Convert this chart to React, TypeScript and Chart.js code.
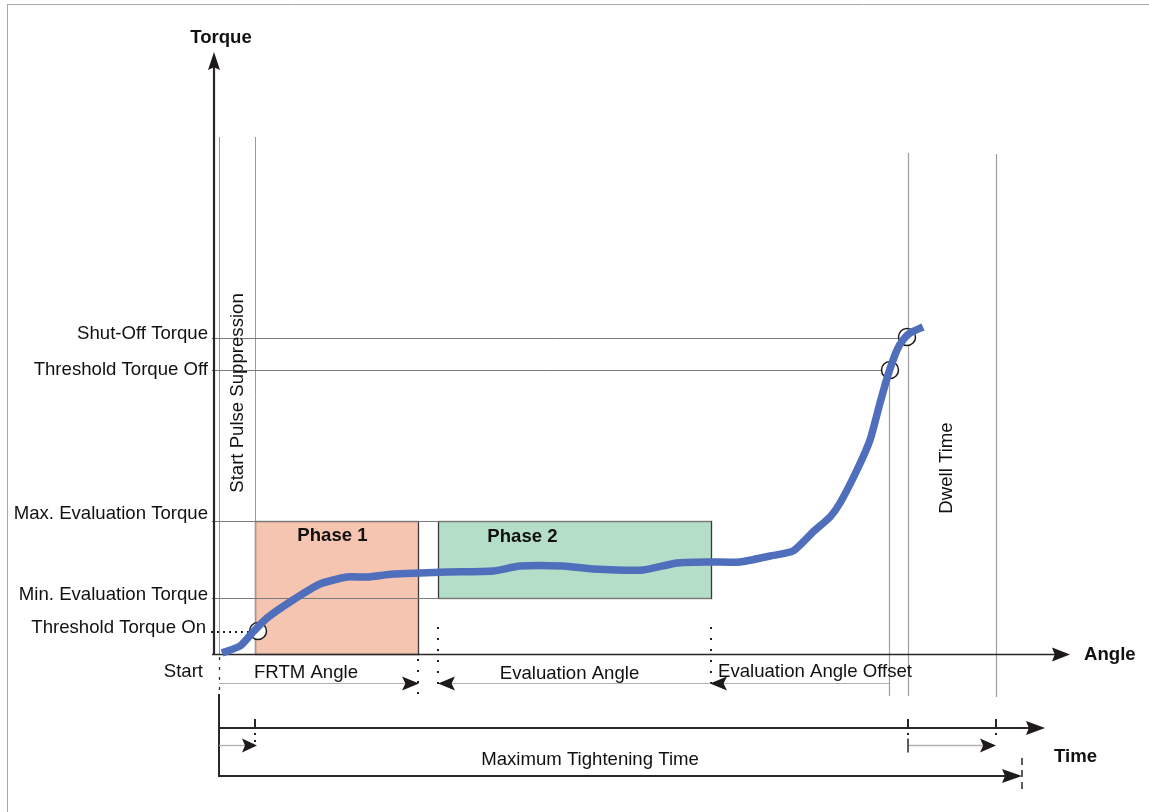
import React, { useEffect, useRef } from "react";
import { Chart, registerables } from "chart.js";

Chart.register(...registerables);

// Tightening curve: angle (x) and torque (y), arbitrary units
const curveAngle = [8, 26, 39, 53, 79, 106, 133, 153, 179, 206, 233, 279, 306, 349, 379, 429, 463, 496, 526, 556, 579, 599, 616, 626, 643, 656, 666, 674, 683, 689, 696, 709];
const curveTorque = [1, 8, 22, 36, 54, 70, 77, 77, 80, 81, 82, 83, 88, 88, 85, 84, 91, 92, 92, 98, 103, 122, 137, 151, 184, 214, 251, 279, 304, 314, 321, 327];

// Torque levels (left labels)
const torqueLabels = ["Shut-Off Torque", "Threshold Torque Off", "Max. Evaluation Torque", "Min. Evaluation Torque", "Threshold Torque On"];
const torqueLevels = [316, 284, 133, 56, 23];

// Angle marks
const markNames = ["start", "pulseEnd", "frtmEnd", "evalStart", "evalEnd", "thresholdOff", "shutOff", "dwellEnd"];
const markAngles = [5, 41, 204, 224, 497, 675, 694, 782];

// Rows below the angle axis (in torque units)
const rowNames = ["angleDim", "timeAxis", "timeDim", "maxTime"];
const rowLevels = [-29, -74, -91, -122];

// Axis extents
const axisNames = ["torqueTop", "angleEnd", "timeEnd", "maxTimeEnd", "verticalTop"];
const axisValues = [602, 856, 831, 808, 517];

// Threshold crossing circles
const circleAngle = [44, 676, 693];
const circleTorque = [23, 284, 317];

const FONT = "'Liberation Sans', Arial, sans-serif";
const FS = 18.6;
const M = (n: string) => markAngles[markNames.indexOf(n)];
const R = (n: string) => rowLevels[rowNames.indexOf(n)];
const A = (n: string) => axisValues[axisNames.indexOf(n)];

const diagramPlugin = {
  id: "diagram",
  beforeDatasetsDraw(chart: any) {
    const ctx: CanvasRenderingContext2D = chart.ctx;
    const xs = chart.scales.x;
    const ys = chart.scales.y;
    const X = (v: number) => xs.getPixelForValue(v);
    const Y = (v: number) => ys.getPixelForValue(v);
    const h = (v: number) => Math.round(v) + 0.5;

    const line = (x1: number, y1: number, x2: number, y2: number, color: string, w: number, dash: number[] = []) => {
      ctx.save();
      ctx.strokeStyle = color;
      ctx.lineWidth = w;
      ctx.setLineDash(dash);
      ctx.beginPath();
      ctx.moveTo(x1, y1);
      ctx.lineTo(x2, y2);
      ctx.stroke();
      ctx.restore();
    };
    const dots = (x: number, y1: number, y2: number, gap = 11) => {
      ctx.save();
      ctx.fillStyle = "#222";
      for (let y = y1; y <= y2; y += gap) ctx.fillRect(Math.round(x) - 1, Math.round(y) - 1, 2, 2);
      ctx.restore();
    };
    const hdots = (x1: number, x2: number, y: number, gap = 6) => {
      ctx.save();
      ctx.fillStyle = "#222";
      for (let x = x1; x <= x2; x += gap) ctx.fillRect(Math.round(x) - 1, Math.round(y), 2, 2);
      ctx.restore();
    };
    const arrow = (tx: number, ty: number, dir: string, len: number, half: number, notch = 0.25) => {
      let dx = 0, dy = 0;
      if (dir === "r") dx = 1;
      if (dir === "l") dx = -1;
      if (dir === "u") dy = -1;
      const bx = tx - dx * len, by = ty - dy * len;
      const px = -dy, py = dx;
      ctx.save();
      ctx.fillStyle = "#1e1a1a";
      ctx.beginPath();
      ctx.moveTo(tx, ty);
      ctx.lineTo(bx + px * half, by + py * half);
      ctx.lineTo(bx + dx * len * notch, by + dy * len * notch);
      ctx.lineTo(bx - px * half, by - py * half);
      ctx.closePath();
      ctx.fill();
      ctx.restore();
    };
    const text = (s: string, x: number, y: number, align: CanvasTextAlign, bold = false, size = FS, rot = 0) => {
      ctx.save();
      ctx.fillStyle = "#111111";
      ctx.font = `${bold ? "bold " : ""}${size}px ${FONT}`;
      ctx.textAlign = align;
      ctx.textBaseline = "middle";
      ctx.translate(x, y);
      if (rot) ctx.rotate(rot);
      ctx.fillText(s, 0, 0);
      ctx.restore();
    };

    // outer frame (top and left)
    line(7, 4.5, chart.width, 4.5, "#a8a8a8", 1);
    line(7.5, 4, 7.5, chart.height, "#a8a8a8", 1);

    // phase boxes
    const box = (a1: number, a2: number, t1: number, t2: number, fill: string) => {
      ctx.save();
      ctx.fillStyle = fill;
      ctx.fillRect(X(a1), Y(t2), X(a2) - X(a1), Y(t1) - Y(t2));
      ctx.strokeStyle = "#3a3a3a";
      ctx.lineWidth = 1.3;
      ctx.strokeRect(h(X(a1)), h(Y(t2)), Math.round(X(a2) - X(a1)), Math.round(Y(t1) - Y(t2)));
      ctx.restore();
    };
    box(M("pulseEnd"), M("frtmEnd"), 0, torqueLevels[2], "#f5c5b2");
    box(M("evalStart"), M("evalEnd"), torqueLevels[3], torqueLevels[2], "#b4dec8");

    // thin vertical lines
    const g = "#9a9a9a";
    line(h(X(M("start"))), Y(A("verticalTop")), h(X(M("start"))), Y(0), g, 1);
    line(h(X(M("pulseEnd"))), Y(A("verticalTop")), h(X(M("pulseEnd"))), Y(0), g, 1);
    line(h(X(M("thresholdOff"))), Y(torqueLevels[1]) + 8, h(X(M("thresholdOff"))), Y(R("angleDim")) + 13, "#a0a0a0", 1.2);
    line(h(X(M("shutOff"))), Y(A("verticalTop") - 16), h(X(M("shutOff"))), Y(R("angleDim")) + 13, "#a0a0a0", 1.2);
    line(h(X(M("dwellEnd"))), Y(A("verticalTop") - 17), h(X(M("dwellEnd"))), Y(R("angleDim")) + 14, "#a0a0a0", 1.2);

    // torque level lines
    const lx = X(-2);
    line(lx, h(Y(torqueLevels[0])), X(M("shutOff")) - 7, h(Y(torqueLevels[0])), "#7a7a7a", 1);
    line(lx, h(Y(torqueLevels[1])), X(M("thresholdOff")) - 6, h(Y(torqueLevels[1])), "#7a7a7a", 1);
    line(lx, h(Y(torqueLevels[2])), X(M("evalEnd")), h(Y(torqueLevels[2])), "#7a7a7a", 1);
    line(lx, h(Y(torqueLevels[3])), X(M("evalEnd")), h(Y(torqueLevels[3])), "#7a7a7a", 1);
    hdots(X(-2), X(circleAngle[0]) - 8, Y(torqueLevels[4]));

    // circles
    for (let i = 0; i < circleAngle.length; i++) {
      ctx.save();
      ctx.beginPath();
      ctx.arc(X(circleAngle[i]), Y(circleTorque[i]), 8.5, 0, Math.PI * 2);
      ctx.fillStyle = "#ffffff";
      ctx.fill();
      ctx.strokeStyle = "#1a1a1a";
      ctx.lineWidth = 1.5;
      ctx.stroke();
      ctx.restore();
    }

    // torque axis
    line(X(0), Y(0) + 1, X(0), Y(A("torqueTop")) + 14, "#2a2626", 2.2);
    arrow(X(0), Y(A("torqueTop")), "u", 18, 6, 0.15);
    // angle axis
    line(X(-2), h(Y(0)), X(A("angleEnd")) - 12, h(Y(0)), "#2a2626", 1.5);
    arrow(X(A("angleEnd")), Y(0) + 0.5, "r", 18, 7, 0.15);

    // dotted verticals
    line(h(X(M("start"))), Y(0) + 3, h(X(M("start"))), Y(R("timeAxis")) - 34, "#333", 1.3, [3, 7]);
    dots(X(M("frtmEnd")), Y(0) + 6, Y(R("angleDim")) + 10);
    dots(X(M("evalStart")), Y(torqueLevels[4]) - 3, Y(R("angleDim")) + 10);
    dots(X(M("evalEnd")), Y(torqueLevels[4]) - 3, Y(R("angleDim")) + 10);

    // angle dimension row
    const yd = h(Y(R("angleDim")));
    line(X(M("start")), yd, X(M("frtmEnd")) - 8, yd, "#b0b0b0", 1);
    line(X(M("evalStart")) + 8, yd, X(M("thresholdOff")), yd, "#b0b0b0", 1);
    arrow(X(M("frtmEnd")) + 1, yd, "r", 17, 7, 0.2);
    arrow(X(M("evalStart")), yd, "l", 17, 7, 0.2);
    arrow(X(M("evalEnd")) - 1, yd, "l", 17, 7, 0.2);

    // time axis
    const yt = Y(R("timeAxis"));
    line(X(M("start")), yt, X(A("timeEnd")) - 12, yt, "#2a2626", 2);
    arrow(X(A("timeEnd")), yt, "r", 19, 7, 0.15);
    line(X(M("start")), Y(R("timeAxis")) - 34, X(M("start")), Y(R("maxTime")) + 1, "#2a2626", 2);
    for (const n of ["pulseEnd", "shutOff", "dwellEnd"]) {
      line(X(M(n)), yt - 9, X(M(n)), yt, "#2a2626", 2);
    }
    // time dimension row
    const ytd = h(Y(R("timeDim")));
    line(X(M("start")), ytd, X(M("pulseEnd")) - 6, ytd, "#b0b0b0", 1.3);
    arrow(X(M("pulseEnd")) + 2, ytd, "r", 15, 7, 0.2);
    line(X(M("shutOff")), ytd, X(M("dwellEnd")) - 6, ytd, "#b0b0b0", 1.3);
    arrow(X(M("dwellEnd")), ytd, "r", 16, 7, 0.2);
    dots(X(M("pulseEnd")), yt + 6, ytd + 2, 7);
    dots(X(M("shutOff")), yt + 6, yt + 6, 7);
    line(X(M("shutOff")), ytd - 7, X(M("shutOff")), ytd + 7, "#2a2626", 1.5);
    dots(X(M("dwellEnd")), yt + 6, yt + 6, 7);
    // max tightening time
    const ym = Y(R("maxTime"));
    line(X(M("start")), ym, X(A("maxTimeEnd")) - 12, ym, "#2a2626", 2);
    arrow(X(A("maxTimeEnd")), ym, "r", 20, 7, 0.15);
    line(X(A("maxTimeEnd")), ym - 18, X(A("maxTimeEnd")), ym + 14, "#2a2626", 1.5, [7, 5]);

    // texts
    const tx = X(-6);
    text(torqueLabels[0], tx, Y(torqueLevels[0]) - 4, "right");
    text(torqueLabels[1], tx, Y(torqueLevels[1]), "right");
    text(torqueLabels[2], tx, Y(torqueLevels[2]) - 7, "right");
    text(torqueLabels[3], tx, Y(torqueLevels[3]) - 3, "right");
    text(torqueLabels[4], X(-8), Y(torqueLevels[4]) - 3, "right");
    text("Start", X(-11), Y(R("angleDim")) - 11, "right");
    text("Torque", X(7), Y(A("torqueTop")) - 14, "center", true);
    text("Angle", X(A("angleEnd")) + 14, Y(0) + 1, "left", true);
    text("Time", X(A("timeEnd")) + 9, Y(R("timeDim")) + 12, "left", true);
    text("Phase 1", X((M("pulseEnd") + M("frtmEnd")) / 2 - 4), Y(torqueLevels[2]) + 15, "center", true);
    text("Phase 2", X((M("evalStart") + M("evalEnd")) / 2 - 52), Y(torqueLevels[2]) + 16, "center", true);
    text("FRTM Angle", X(M("pulseEnd")) - 1, Y(R("angleDim")) - 10, "left");
    text("Evaluation Angle", X((M("evalStart") + M("evalEnd")) / 2 - 5), Y(R("angleDim")) - 9, "center");
    text("Evaluation Angle Offset", X(M("evalEnd")) + 7, Y(R("angleDim")) - 11, "left");
    text("Maximum Tightening Time", X(376), Y(R("maxTime")) - 16, "center");
    text("Start Pulse Suppression", X(24), Y(261), "center", false, FS, -Math.PI / 2);
    text("Dwell Time", X(733), Y(186), "center", false, FS, -Math.PI / 2);
  },
};

export default function App() {
  const ref = useRef<HTMLCanvasElement>(null);
  useEffect(() => {
    if (!ref.current) return;
    const data = curveAngle.map((a, i) => ({ x: a, y: curveTorque[i] }));
    const chart = new Chart(ref.current, {
      type: "line",
      data: {
        datasets: [
          {
            data,
            borderColor: "#4f6ebb",
            borderWidth: 7.5,
            pointRadius: 0,
            tension: 0.2,
            borderCapStyle: "butt",
            borderJoinStyle: "round",
            fill: false,
          },
        ],
      },
      options: {
        responsive: false,
        animation: false,
        layout: { padding: 0 },
        plugins: { legend: { display: false }, tooltip: { enabled: false } },
        scales: {
          x: { type: "linear", min: -214, max: 935, display: false },
          y: { type: "linear", min: -158, max: 654, display: false },
        },
      },
      plugins: [diagramPlugin],
    } as any);
    return () => chart.destroy();
  }, []);
  return (
    <div style={{ position: "absolute", left: 0, top: 0, width: 1149, height: 812, background: "#fff" }}>
      <canvas ref={ref} width={1149} height={812} style={{ display: "block" }} />
    </div>
  );
}
